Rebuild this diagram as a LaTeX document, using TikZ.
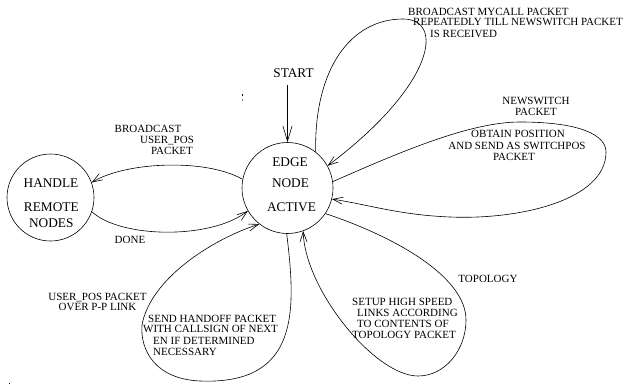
\documentclass[tikz,border=0pt]{standalone}
\usepackage{fontspec}
\setmainfont{Liberation Serif}
\usetikzlibrary{arrows.meta}
\tikzset{
  lbl/.style={font=\fontsize{11}{11}\selectfont, inner sep=0pt, anchor=base},
  lblw/.style={font=\fontsize{11}{11}\selectfont, inner sep=0pt, anchor=base west},
  big/.style={font=\fontsize{13.3}{13.3}\selectfont, inner sep=0pt, anchor=base},
  state/.style={draw, circle, line width=0.6pt, inner sep=0pt},
  arr/.style={line width=0.6pt, -{Straight Barb[length=10pt,width=7pt]}},
  bigarr/.style={line width=0.6pt, -{Straight Barb[length=15pt,width=9pt]}},
}
\begin{document}
\begin{tikzpicture}[x=1pt,y=-1pt]
\useasboundingbox (0,0) rectangle (631,385);
% states
\node[state, minimum size=91pt] (E) at (287.5,188) {};
\node[state, minimum size=87pt] (H) at (50.5,197.5) {};
\node[big] (e1) at (290,166.4) {EDGE};
\node[big] (e2) at (290.5,187.4) {NODE};
\node[big] (e3) at (291.5,211.4) {ACTIVE};
\node[big] (h1) at (51,187.4) {HANDLE};
\node[big] (h2) at (51.3,211.4) {REMOTE};
\node[big] (h3) at (51.3,227.4) {NODES};
% start
\node[big] (st) at (293.5,77.4) {START};
\draw[bigarr] ([yshift=-7.6pt]E.north |- st.south) -- (E.north);
% top loop
\draw[arr] (E.52) .. controls (314,70) and (350,19) .. (403,19)
  .. controls (445,19) and (435,85) .. (E.29);
\node[lblw] (t1) at (408,15.6) {BROADCAST MYCALL PACKET};
\node[lblw] (t2) at (413,25.6) {REPEATEDLY TILL NEWSWITCH PACKET};
\node[lblw] (t3) at (430,37.6) {IS RECEIVED};
% newswitch loop
\draw[arr] (E.8) .. controls (400,152) and (470,122) .. (520,122)
  .. controls (580,122) and (606,135) .. (606,152)
  .. controls (606,200) and (520,220) .. (450,217)
  .. controls (400,215) and (370,205) .. (E.-14);
\node[lbl] (n1) at (536,104.6) {NEWSWITCH};
\node[lbl] (n2) at (536,115.6) {PACKET};
\node[lbl] (n3) at (518,137.6) {OBTAIN POSITION};
\node[lbl] (n4) at (517,149.6) {AND SEND AS SWITCHPOS};
\node[lbl] (n5) at (514,160.6) {PACKET};
% topology loop
\draw[arr] (E.-34) .. controls (390,235) and (466,275) .. (466,320)
  .. controls (466,350) and (445,376) .. (418,376)
  .. controls (375,376) and (305,290) .. (E.-70);
\node[lbl] (p0) at (488,282.6) {TOPOLOGY};
\node[lblw] (p1) at (352,305.6) {SETUP HIGH SPEED};
\node[lblw] (p2) at (357,316.6) {LINKS ACCORDING};
\node[lblw] (p3) at (357,327.6) {TO CONTENTS OF};
\node[lblw] (p4) at (352,338.6) {TOPOLOGY PACKET};
% handoff loop
\draw[arr] (E.-91) .. controls (296,310) and (300,385) .. (200,381)
  .. controls (155,379) and (140,350) .. (142,325)
  .. controls (150,280) and (210,240) .. (E.-128);
\node[lbl] (u1) at (97.5,300.6) {USER\_POS PACKET};
\node[lbl] (u2) at (97.5,310.6) {OVER P-P LINK};
\node[lblw] (s1) at (148,322.6) {SEND HANDOFF PACKET};
\node[lblw] (s2) at (143,332.6) {WITH CALLSIGN OF NEXT};
\node[lblw] (s3) at (153,344.6) {EN IF DETERMINED};
\node[lblw] (s4) at (153,355.6) {NECESSARY};
% handle <-> edge
\draw[arr] (E.169) .. controls (205,158) and (125,162) .. (H.20);
\draw[arr] (H.-19) .. controls (120,238) and (210,240) .. (E.-150);
\node[lbl] (b1) at (148,132.6) {BROADCAST};
\node[lbl] (b2) at (167,143.6) {USER\_POS};
\node[lbl] (b3) at (172,154.6) {PACKET};
\node[lbl] (d1) at (130,243.6) {DONE};
% stray dots
\fill (241.5,94.5) rectangle +(1.2,1.2);
\fill[gray] (241.5,99.5) rectangle +(1.2,1.2);
\fill (8.5,382.5) rectangle +(1.2,1.2);
\end{tikzpicture}
\end{document}
